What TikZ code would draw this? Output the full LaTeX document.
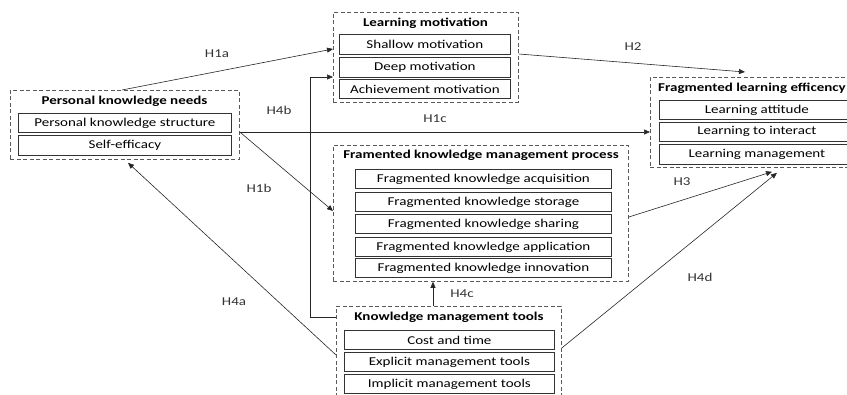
\documentclass[tikz,border=0pt]{standalone}
\usepackage{fontspec}
\setmainfont{Carlito}[FakeStretch=1.25]
\usetikzlibrary{arrows.meta,calc}
\begin{document}
\begin{tikzpicture}[x=1pt,y=-1pt,
  grp/.style={draw=black!65, dash pattern=on 4pt off 2.5pt, line width=0.8pt, anchor=north west, inner sep=0pt},
  item/.style={draw=black!80, line width=0.8pt, anchor=north west, inner sep=0pt, font=\fontsize{12}{14}\selectfont},
  ttl/.style={font=\bfseries\fontsize{12}{14}\selectfont, inner sep=0pt},
  lbl/.style={font=\fontsize{12}{14}\selectfont, text=black!80, inner sep=0pt},
  conn/.style={draw=black!85, line width=0.6pt},
  arr/.style={conn, -{Triangle[length=6pt,width=5pt]}}]
\useasboundingbox (0,0) rectangle (847,395);
% Personal knowledge needs
\node[grp, minimum width=229pt, minimum height=69pt] (pkn) at (10,90) {};
\node[ttl] (pknt) at (124.5,101) {Personal knowledge needs};
\node[item, minimum width=213pt, minimum height=19pt] (pks) at (18,113) {Personal knowledge structure};
\node[item, minimum width=213pt, minimum height=20pt] (se) at (18,135) {Self-efficacy};
% Learning motivation
\node[grp, minimum width=185pt, minimum height=90pt] (lm) at (333,12) {};
\node[ttl] (lmt) at (425.5,23) {Learning motivation};
\node[item, minimum width=171pt, minimum height=20pt] (sm) at (339,34) {Shallow motivation};
\node[item, minimum width=171pt, minimum height=20pt] (dm) at (339,57) {Deep motivation};
\node[item, minimum width=171pt, minimum height=19pt] (am) at (339,79) {Achievement motivation};
% Fragmented learning efficency
\node[grp, minimum width=215pt, minimum height=90pt] (fle) at (650,77) {};
\node[ttl] (flet) at (752,88) {Fragmented learning efficency};
\node[item, minimum width=195pt, minimum height=19pt] (la) at (659,100) {Learning attitude};
\node[item, minimum width=195pt, minimum height=19pt] (li) at (659,122) {Learning to interact};
\node[item, minimum width=195pt, minimum height=20pt] (lmg) at (659,144) {Learning management};
% Framented knowledge management process
\node[grp, minimum width=295pt, minimum height=136pt] (fkmp) at (333,145) {};
\node[ttl] (fkmpt) at (481,155) {Framented knowledge management process};
\node[item, minimum width=256pt, minimum height=19pt] (fa) at (355,169) {Fragmented knowledge acquisition};
\node[item, minimum width=256pt, minimum height=19pt] (fs) at (355,192) {Fragmented knowledge storage};
\node[item, minimum width=256pt, minimum height=19pt] (fsh) at (355,214) {Fragmented knowledge sharing};
\node[item, minimum width=256pt, minimum height=19pt] (fap) at (355,237) {Fragmented knowledge application};
\node[item, minimum width=256pt, minimum height=19pt] (fin) at (355,258) {Fragmented knowledge innovation};
% Knowledge management tools
\node[grp, minimum width=225pt, minimum height=100pt] (kmt) at (336,306) {};
\node[ttl] (kmtt) at (449,317) {Knowledge management tools};
\node[item, minimum width=210pt, minimum height=19pt] (ct) at (344,330) {Cost and time};
\node[item, minimum width=210pt, minimum height=19pt] (emt) at (344,352) {Explicit management tools};
\node[item, minimum width=210pt, minimum height=19pt] (imt) at (344,374) {Implicit management tools};
% connectors
\draw[arr] ([xshift=112pt]pkn.north west) -- ([yshift=-37pt]lm.north west);
\draw[arr] ([yshift=-11pt]kmt.north west) -- ++(-26pt,0) |- ([yshift=-65pt]lm.north west);
\draw[arr] ([yshift=-42pt]pkn.north east) -- ([yshift=-55pt]fle.north west);
\draw[arr] ([yshift=-42pt]pkn.north east) -- ([yshift=-66pt]fkmp.north west);
\draw[arr] ([yshift=-42pt]lm.north east) -- ([xshift=95pt,yshift=5pt]fle.north west);
\draw[arr] ([yshift=-72pt]fkmp.north east) -- ([xshift=122pt,yshift=-4pt]fle.south west);
\draw[arr] ([yshift=-42pt]kmt.north east) -- ([xshift=127pt,yshift=-5pt]fle.south west);
\draw[arr] ([xshift=97pt]kmt.north west) -- ([xshift=100pt]fkmp.south west);
\draw[arr] ([yshift=-49pt]kmt.north west) -- ([xshift=118pt,yshift=-3pt]pkn.south west);
% labels
\node[lbl] (l1a) at (217,54) {H1a};
\node[lbl] (l4b) at (279,110) {H4b};
\node[lbl] (l1c) at (435,119) {H1c};
\node[lbl] (l1b) at (259,188) {H1b};
\node[lbl] (l2) at (633,47) {H2};
\node[lbl] (l3) at (682,182) {H3};
\node[lbl] (l4d) at (700,277) {H4d};
\node[lbl] (l4c) at (462,294) {H4c};
\node[lbl] (l4a) at (234,302) {H4a};
\end{tikzpicture}
\end{document}
